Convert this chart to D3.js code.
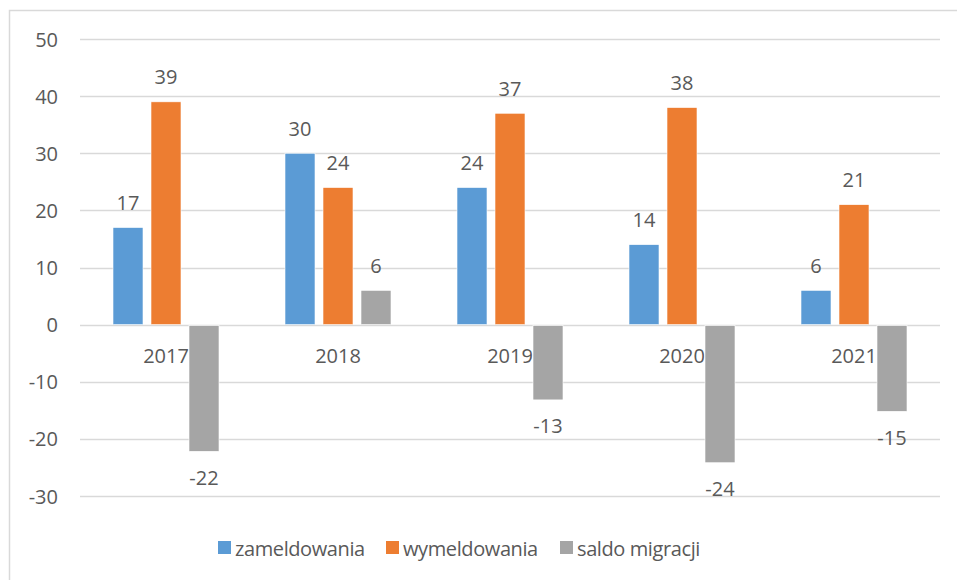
<!DOCTYPE html>
<html>
<head>
<meta charset="utf-8">
<script src="https://cdn.jsdelivr.net/npm/d3@7"></script>
<style>
    body { margin: 0; background: #fff; }
    svg { display: block; font-family: "Open Sans", sans-serif; }
    .axis-text { fill: #595959; font-size: 20px; }
    .legend-text { letter-spacing: -0.4px; }
</style>
</head>
<body>
<div id="chart"></div>
<script>
// data
const years = ["2017", "2018", "2019", "2020", "2021"];
const seriesNames = ["zameldowania", "wymeldowania", "saldo migracji"];
const zameldowania = [17, 30, 24, 14, 6];
const wymeldowania = [39, 24, 37, 38, 21];
const saldo = [-22, 6, -13, -24, -15];
const seriesColors = ["#5b9bd5", "#ed7d31", "#a5a5a5"];
const yTicks = [-30, -20, -10, 0, 10, 20, 30, 40, 50];

const width = 957, height = 580;
const plot = {left: 80, right: 940, top: 39, bottom: 496};

const seriesValues = [zameldowania, wymeldowania, saldo];

const svg = d3.select("#chart").append("svg")
    .attr("width", width)
    .attr("height", height);

// chart frame (right and bottom edges are cut off in the reference)
svg.append("path")
    .attr("d", `M9.5,${height} V10.5 H${width}`)
    .attr("fill", "none")
    .attr("stroke", "#d9d9d9")
    .attr("stroke-width", 1.5);

const y = d3.scaleLinear()
    .domain([-30, 50])
    .range([plot.bottom, plot.top]);

const x0 = d3.scaleBand()
    .domain(years)
    .range([plot.left, plot.right])
    .paddingInner(66 / 172)
    .paddingOuter(33 / 172);

const x1 = d3.scaleBand()
    .domain(seriesNames)
    .range([0, x0.bandwidth()])
    .paddingInner(8 / 38);

const color = d3.scaleOrdinal().domain(seriesNames).range(seriesColors);

// gridlines
svg.append("g")
    .selectAll("line")
    .data(yTicks)
    .join("line")
    .attr("x1", plot.left)
    .attr("x2", plot.right)
    .attr("y1", d => Math.round(y(d)) + 0.5)
    .attr("y2", d => Math.round(y(d)) + 0.5)
    .attr("stroke", "#d9d9d9")
    .attr("stroke-width", 1.5);

// y tick labels
svg.append("g")
    .selectAll("text")
    .data(yTicks)
    .join("text")
    .attr("class", "axis-text")
    .attr("x", 58)
    .attr("y", d => y(d))
    .attr("text-anchor", "end")
    .attr("dominant-baseline", "central")
    .text(d => d);

// year labels under the zero line
svg.append("g")
    .selectAll("text")
    .data(years)
    .join("text")
    .attr("class", "axis-text")
    .attr("x", d => x0(d) + x0.bandwidth() / 2)
    .attr("y", y(0) + 31)
    .attr("text-anchor", "middle")
    .attr("dominant-baseline", "central")
    .text(d => d);

// bars
const rows = years.map((yr, i) => seriesNames.map((s, j) => ({year: yr, series: s, value: seriesValues[j][i]})));

const groups = svg.append("g")
    .selectAll("g")
    .data(rows)
    .join("g")
    .attr("transform", (d, i) => `translate(${x0(years[i])},0)`);

groups.selectAll("rect")
    .data(d => d)
    .join("rect")
    .attr("x", d => x1(d.series))
    .attr("width", x1.bandwidth())
    .attr("y", d => d.value >= 0 ? y(d.value) : y(0) + 1)
    .attr("height", d => Math.abs(y(d.value) - y(0)))
    .attr("fill", d => color(d.series))
    .attr("stroke", "#fff")
    .attr("stroke-width", 0.6);

// value labels
groups.selectAll("text")
    .data(d => d)
    .join("text")
    .attr("class", "axis-text")
    .attr("x", d => x1(d.series) + x1.bandwidth() / 2)
    .attr("y", d => d.value >= 0 ? y(d.value) - 25 : y(d.value) + 27)
    .attr("text-anchor", "middle")
    .attr("dominant-baseline", "central")
    .text(d => d.value);

// legend
const legendX = [218, 386, 560];
const legend = svg.append("g")
    .selectAll("g")
    .data(seriesNames)
    .join("g")
    .attr("transform", (d, i) => `translate(${legendX[i]},548)`);

legend.append("rect")
    .attr("x", 0)
    .attr("y", -7)
    .attr("width", 13)
    .attr("height", 13)
    .attr("fill", d => color(d));

legend.append("text")
    .attr("class", "axis-text legend-text")
    .attr("x", 17)
    .attr("y", 0)
    .attr("dominant-baseline", "central")
    .text(d => d);
</script>
</body>
</html>
